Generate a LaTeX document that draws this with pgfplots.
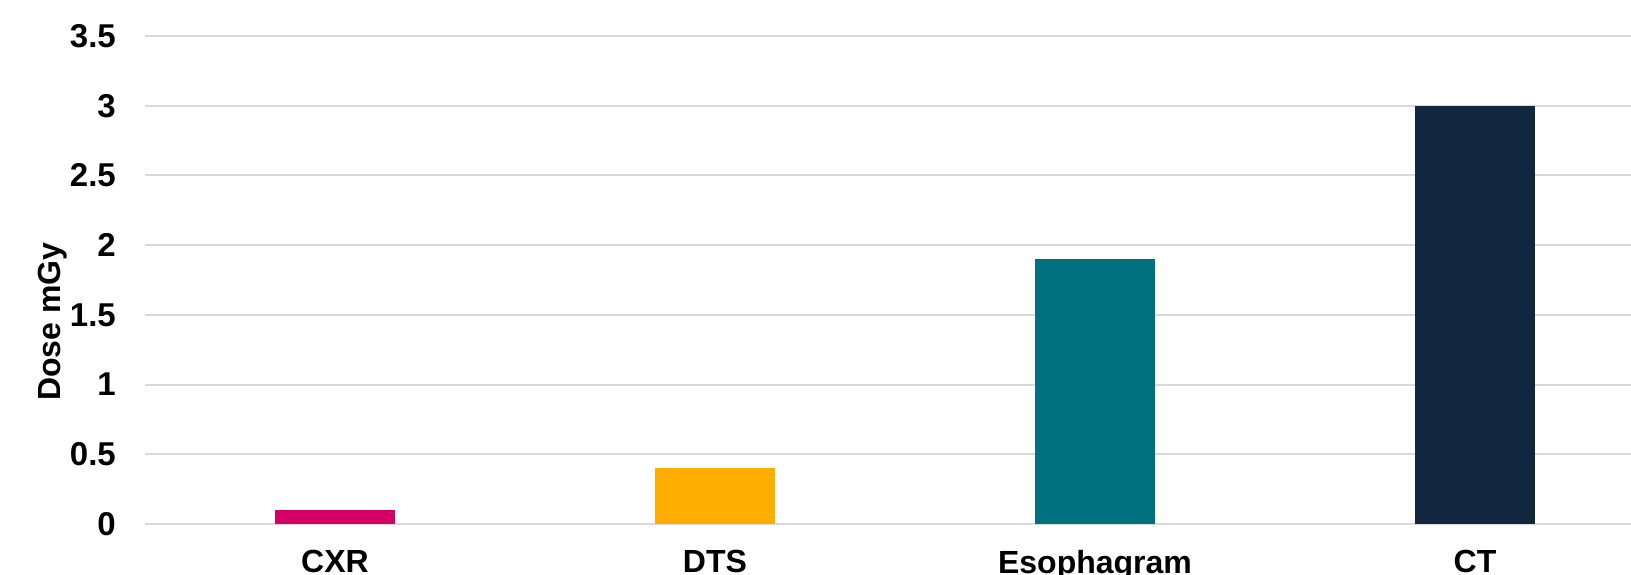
\documentclass[border=0pt]{standalone}
\usepackage{fontspec}
\setmainfont{Liberation Sans}
\usepackage{pgfplots}
\pgfplotsset{compat=1.18}
\definecolor{cxr}{HTML}{D40066}
\definecolor{dts}{HTML}{FFAE00}
\definecolor{eso}{HTML}{00717F}
\definecolor{ct}{HTML}{12263F}
\definecolor{gridc}{HTML}{D9D9D9}
\begin{document}
\begin{tikzpicture}[x=1pt,y=1pt]
\begin{scope}
\clip (0,0) rectangle (1631,575);
\begin{axis}[
  at={(145pt,51pt)}, anchor=south west,
  scale only axis, width=1520pt, height=488pt,
  xmin=-0.5, xmax=3.5, ymin=0, ymax=3.5,
  ytick={0,0.5,1,1.5,2,2.5,3,3.5},
  xtick={0,1,2,3},
  xticklabels={CXR,DTS,Esophagram,CT},
  major tick length=0pt,
  axis line style={draw=none},
  ymajorgrids=true, xmajorgrids=false,
  major grid style={draw=gridc, line width=2pt},
  /pgf/number format/assume math mode=true,
  tick label style={font=\fontsize{32}{38}\selectfont\bfseries},
  yticklabel style={font=\fontsize{33}{38}\selectfont\bfseries, anchor=east, inner sep=0pt, xshift=-29pt},
  xticklabel style={anchor=north, inner sep=0pt, yshift=-26pt},
  ylabel={Dose mGy},
  ylabel style={font=\fontsize{32}{38}\selectfont\bfseries, at={(axis description cs:0,0.4145)}, anchor=center, yshift=92pt},
  ybar, bar width=120pt,
  clip=false,
]
\addplot[fill=cxr, draw=none, bar shift=0pt] coordinates {(0,0.1)};
\addplot[fill=dts, draw=none, bar shift=0pt] coordinates {(1,0.4)};
\addplot[fill=eso, draw=none, bar shift=0pt] coordinates {(2,1.9)};
\addplot[fill=ct, draw=none, bar shift=0pt] coordinates {(3,3.0)};
\end{axis}
\end{scope}
\pgfresetboundingbox
\useasboundingbox (0,0) rectangle (1631,575);
\end{tikzpicture}
\end{document}
